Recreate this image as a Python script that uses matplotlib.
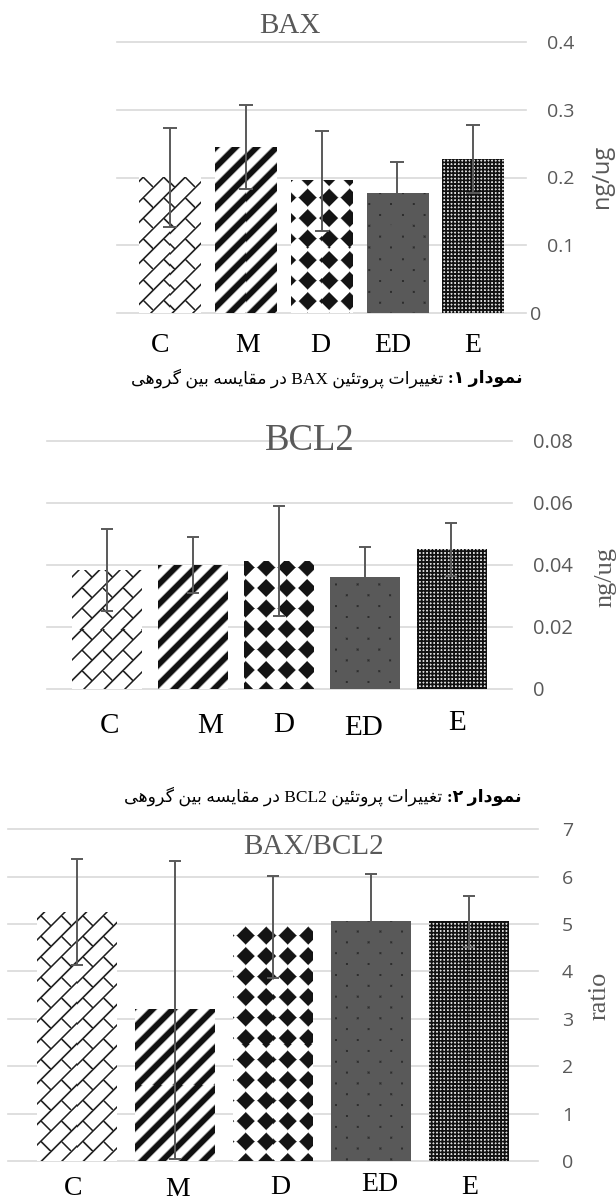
import re
import numpy as np
import matplotlib
matplotlib.use("Agg")
import matplotlib.pyplot as plt
from matplotlib.transforms import ScaledTranslation

# ---------------------------------------------------------------- data
groups = ["C", "M", "D", "ED", "E"]

bax_mean = [0.200, 0.245, 0.195, 0.176, 0.227]
bax_err = [0.073, 0.062, 0.074, 0.047, 0.050]
bax_ticks = [0, 0.1, 0.2, 0.3, 0.4]
bax_ticklabels = ["0", "0.1", "0.2", "0.3", "0.4"]

bcl2_mean = [0.0382, 0.0400, 0.0412, 0.0360, 0.0450]
bcl2_err = [0.0132, 0.0090, 0.0176, 0.0096, 0.0086]
bcl2_ticks = [0, 0.02, 0.04, 0.06, 0.08]
bcl2_ticklabels = ["0", "0.02", "0.04", "0.06", "0.08"]

ratio_mean = [5.25, 3.19, 4.94, 5.06, 5.06]
ratio_err = [1.12, 3.15, 1.07, 1.00, 0.54]
ratio_ticks = [0, 1, 2, 3, 4, 5, 6, 7]
ratio_ticklabels = ["0", "1", "2", "3", "4", "5", "6", "7"]

caption1_bold = "نمودار ۱:"
caption1_rest = "تغییرات پروتئین BAX در مقایسه بین گروهی"
caption2_bold = "نمودار ۲:"
caption2_rest = "تغییرات پروتئین BCL2 در مقایسه بین گروهی"

fill_kinds = ["brick", "stripes", "diamonds", "dots", "mesh"]

# ---------------------------------------------------------------- style
W, H, DPI = 616, 1203, 100
GRAY = "#595959"
GRID = "#d9d9d9"
SERIF = "Liberation Serif"
SANS = "Open Sans"

fig = plt.figure(figsize=(W / DPI, H / DPI), dpi=DPI)
fig.patch.set_facecolor("white")


def px_axes(left, top, right, bottom):
    return fig.add_axes([left / W, 1 - bottom / H, (right - left) / W, (bottom - top) / H])


def fx(x):
    return x / W


def fy(y):
    return 1 - y / H


# ---------------------------------------------------------------- Persian shaping
FORMS = {
    "\u0627": ("\uFE8D", "\uFE8E", None, None),
    "\u062F": ("\uFEA9", "\uFEAA", None, None),
    "\u0631": ("\uFEAD", "\uFEAE", None, None),
    "\u0648": ("\uFEED", "\uFEEE", None, None),
    "\u0628": ("\uFE8F", "\uFE90", "\uFE91", "\uFE92"),
    "\u062A": ("\uFE95", "\uFE96", "\uFE97", "\uFE98"),
    "\u0633": ("\uFEB1", "\uFEB2", "\uFEB3", "\uFEB4"),
    "\u063A": ("\uFECD", "\uFECE", "\uFECF", "\uFED0"),
    "\u0642": ("\uFED5", "\uFED6", "\uFED7", "\uFED8"),
    "\u0645": ("\uFEE1", "\uFEE2", "\uFEE3", "\uFEE4"),
    "\u0646": ("\uFEE5", "\uFEE6", "\uFEE7", "\uFEE8"),
    "\u0647": ("\uFEE9", "\uFEEA", "\uFEEB", "\uFEEC"),
    "\u0626": ("\uFE89", "\uFE8A", "\uFE8B", "\uFE8C"),
    "\u06CC": ("\uFBFC", "\uFBFD", "\uFBFE", "\uFBFF"),
    "\u067E": ("\uFB56", "\uFB57", "\uFB58", "\uFB59"),
    "\u06AF": ("\uFB92", "\uFB93", "\uFB94", "\uFB95"),
}


def shape(s):
    s = s.replace("\u064A", "\u06CC").replace("\u0643", "\u06A9")
    out = []
    for i, ch in enumerate(s):
        if ch not in FORMS:
            out.append(ch)
            continue
        f = FORMS[ch]
        prev = s[i - 1] if i > 0 else ""
        nxt = s[i + 1] if i + 1 < len(s) else ""
        joins_prev = prev in FORMS and FORMS[prev][2] is not None
        joins_next = f[2] is not None and nxt in FORMS
        if joins_prev and joins_next:
            out.append(f[3])
        elif joins_prev:
            out.append(f[1])
        elif joins_next:
            out.append(f[2])
        else:
            out.append(f[0])
    return "".join(out)


def visual(s):
    rev = shape(s)[::-1]
    return re.sub(r"[A-Za-z0-9]+", lambda m: m.group(0)[::-1], rev)


# ---------------------------------------------------------------- fill textures
def band(dist, half, soft):
    return np.clip((half - dist) / soft + 0.5, 0, 1)


def texture(kind, X, Y):
    if kind == "brick":
        d = 14.5
        L = 2 * d
        p = (X - Y) / np.sqrt(2)
        q = (X + Y) / np.sqrt(2)
        dp = np.abs(((p + d / 2) % d) - d / 2)
        k = np.floor(p / d)
        off = (k % 2) * d
        dq = np.abs(((q - off + L / 2) % L) - L / 2)
        ink = np.maximum(band(dp, 0.8, 1.0), band(dq, 0.8, 1.0))
        return 1 - 0.88 * ink
    if kind == "stripes":
        P = 20 / np.sqrt(2)
        p = (X - Y) / np.sqrt(2)
        dist = np.abs(((p + P / 2) % P) - P / 2)
        return 1 - 0.93 * band(dist, 3.0, 1.6)
    if kind == "diamonds":
        a = 20.5
        cx = ((X + a / 2) % a) - a / 2
        cy = ((Y + a / 2) % a) - a / 2
        r = np.abs(cx) + np.abs(cy)
        return 1 - 0.92 * band(r, 9.0, 1.6)
    if kind == "dots":
        px, py = 21.7, 10.85
        j = np.floor((Y + py / 2) / py)
        cx = ((X - (j % 2) * px / 2 + px / 2) % px) - px / 2
        cy = ((Y + py / 2) % py) - py / 2
        r = np.maximum(np.abs(cx), np.abs(cy))
        return 0.35 - 0.17 * band(r, 1.0, 0.8)
    if kind == "mesh":
        per = 3.6
        cx = (X % per) - per / 2
        cy = (Y % per) - per / 2
        r = np.hypot(cx, cy)
        return 0.07 + 0.78 * band(r, 1.0, 0.7)
    return np.ones_like(X)


def fill_bar(ax, bar, kind):
    bb = bar.get_window_extent()
    w = max(int(round(bb.width)), 1)
    h = max(int(round(bb.height)), 1)
    X, Y = np.meshgrid(bb.x0 + np.arange(w) + 0.5, bb.y1 - np.arange(h) - 0.5)
    g = texture(kind, X, Y)
    rgb = np.dstack([g, g, g])
    x0 = bar.get_x()
    ax.imshow(rgb, extent=(x0, x0 + bar.get_width(), bar.get_y(), bar.get_y() + bar.get_height()),
              origin="upper", interpolation="nearest", aspect="auto", zorder=2.5,
              clip_path=bar, clip_on=True)


# ---------------------------------------------------------------- panels
def panel(box, means, errs, ticks, ticklabels, tick_pad, tick_size, capsize,
          label_offsets, label_size):
    ax = px_axes(*box)
    ax.set_xlim(-0.7, 4.7)
    ax.set_ylim(ticks[0], ticks[-1])
    x = np.arange(len(groups))
    bars = ax.bar(x, means, width=0.81, color="white", edgecolor="none", zorder=2)
    for bar, kind in zip(bars, fill_kinds):
        fill_bar(ax, bar, kind)
    ax.errorbar(x, means, yerr=errs, fmt="none", ecolor=GRAY, elinewidth=1.4,
                capsize=capsize, capthick=1.4, zorder=4)
    ax.set_xlim(-0.7, 4.7)
    ax.set_ylim(ticks[0], ticks[-1])
    ax.set_xticks([])
    ax.set_yticks(ticks, ticklabels)
    ax.yaxis.tick_right()
    ax.tick_params(axis="y", length=0, pad=tick_pad, labelsize=tick_size, labelcolor=GRAY)
    for lab in ax.get_yticklabels():
        lab.set_fontfamily(SANS)
    ax.yaxis.grid(True, color=GRID, linewidth=1.2)
    ax.set_axisbelow(True)
    for gl in ax.get_ygridlines():
        gl.set_clip_on(False)
    for sp in ax.spines.values():
        sp.set_visible(False)
    ax.patch.set_alpha(0)
    for i, (g, (dx, dy)) in enumerate(zip(groups, label_offsets)):
        ax.annotate(g, xy=(i, 0), xycoords=("data", "axes fraction"),
                    xytext=(dx, -dy), textcoords="offset pixels",
                    ha="center", va="baseline", family=SERIF, size=label_size,
                    color="black", annotation_clip=False)
    return ax


# BAX
ax1 = panel((117, 42, 526, 313), bax_mean, bax_err, bax_ticks, bax_ticklabels,
            tick_pad=15, tick_size=14, capsize=5,
            label_offsets=[(-10, 38.5), (2, 38.5), (-1.5, 38.5), (-4, 38.5), (0, 38.5)],
            label_size=20)
zero_lbl = ax1.yaxis.get_major_ticks()[0].label2
zero_lbl.set_transform(zero_lbl.get_transform() + ScaledTranslation(-17 / DPI, 0, fig.dpi_scale_trans))

# BCL2
ax2 = panel((46.7, 440.7, 511.7, 688.7), bcl2_mean, bcl2_err, bcl2_ticks, bcl2_ticklabels,
            tick_pad=15.3, tick_size=14.5, capsize=4.3,
            label_offsets=[(3, 44.3), (17, 44), (4, 43), (-2, 46.3), (5.5, 41.3)],
            label_size=21)

# BAX/BCL2
ax3 = panel((8.3, 829.3, 537.7, 1161), ratio_mean, ratio_err, ratio_ticks, ratio_ticklabels,
            tick_pad=17.5, tick_size=14, capsize=4.3,
            label_offsets=[(-4, 34), (3, 34.5), (7, 32.5), (9, 30), (1, 33.5)],
            label_size=20)

# ---------------------------------------------------------------- titles and axis names
fig.text(fx(290), fy(33.3), "BAX", family=SERIF, size=21, color=GRAY, ha="center", va="baseline")
fig.text(fx(310), fy(450), "BCL2", family=SERIF, size=26.5, color=GRAY, ha="center", va="baseline")
fig.text(fx(313), fy(853.5), "BAX/BCL2", family=SERIF, size=21, color=GRAY, ha="center", va="baseline")

fig.text(fx(601.5), fy(176.5), "ng/ug", family=SANS, size=17, color=GRAY, rotation=90,
         ha="center", va="center")
fig.text(fx(605), fy(577), "ng/ug", family=SERIF, size=19, color=GRAY, rotation=90,
         ha="center", va="center")
fig.text(fx(600), fy(996), "ratio", family=SERIF, size=19, color=GRAY, rotation=90,
         ha="center", va="center")


# ---------------------------------------------------------------- captions
def caption(cx, baseline, bold_txt, rest_txt, size):
    renderer = fig.canvas.get_renderer()
    fam = [SERIF, "DejaVu Sans"]
    t_rest = fig.text(0, 0, visual(rest_txt), family=fam, size=size, color="black",
                      ha="left", va="baseline")
    t_bold = fig.text(0, 0, visual(bold_txt), family=fam, size=size, weight="bold",
                      color="black", ha="left", va="baseline")
    wr = t_rest.get_window_extent(renderer).width
    wb = t_bold.get_window_extent(renderer).width
    sep = size * 0.35
    left = cx - (wr + sep + wb) / 2
    t_rest.set_position((fx(left), fy(baseline)))
    t_bold.set_position((fx(left + wr + sep), fy(baseline)))


caption(327, 383.3, caption1_bold, caption1_rest, 12.5)
caption(323, 801.7, caption2_bold, caption2_rest, 12.5)

fig.savefig("out.png", dpi=DPI, facecolor="white")
